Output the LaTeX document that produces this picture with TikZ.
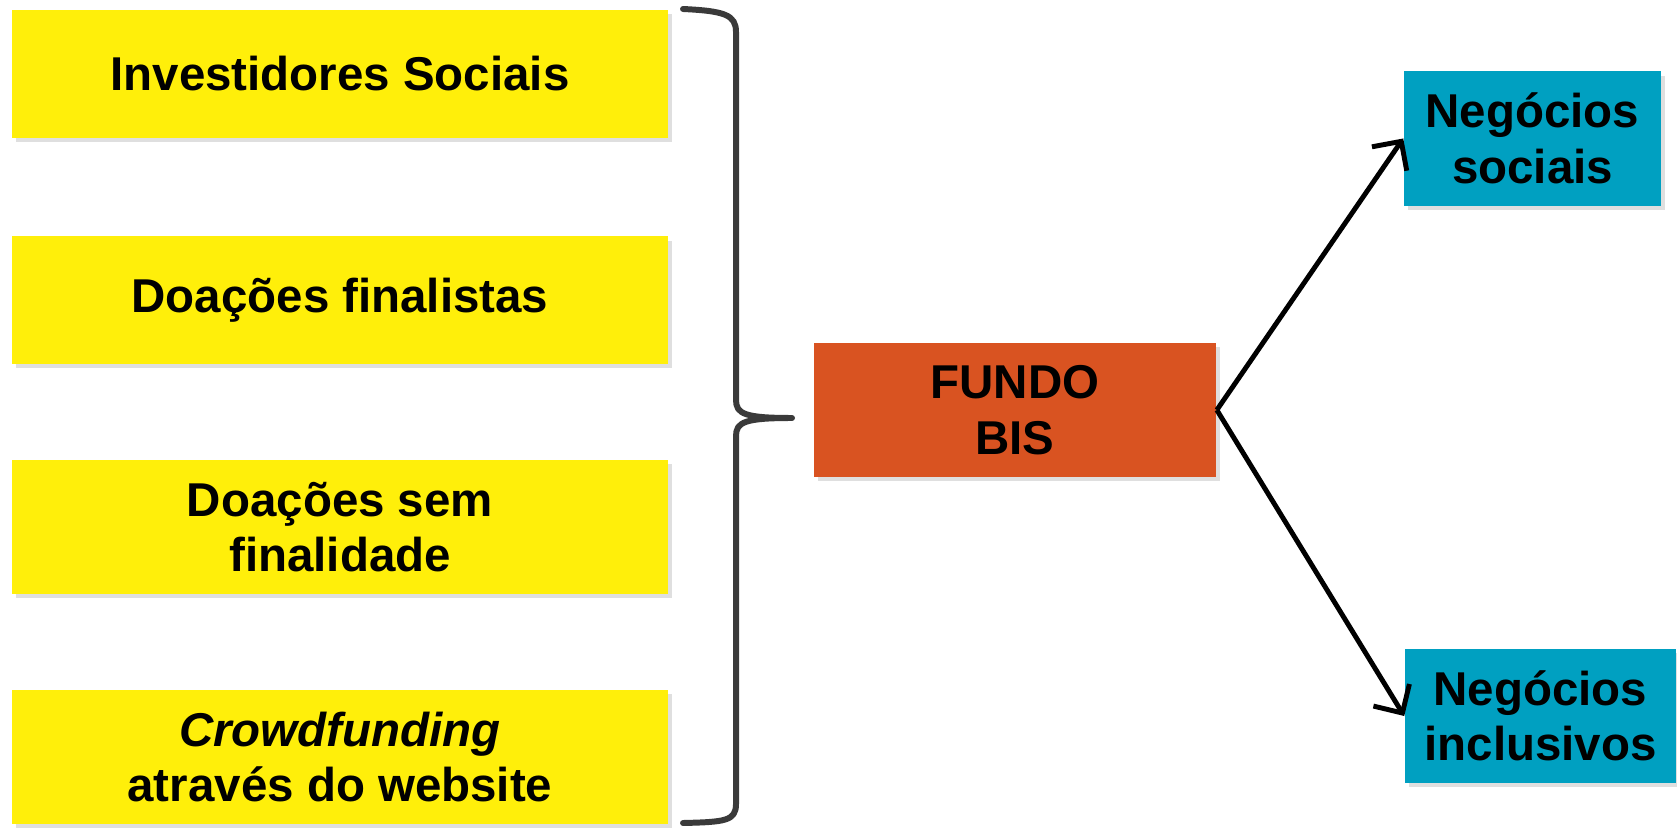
\documentclass[tikz,border=0pt]{standalone}
\usepackage{fontspec}
\setmainfont{Liberation Sans}
\usetikzlibrary{arrows.meta,shadows}

\definecolor{srcyellow}{HTML}{FFEF0A}
\definecolor{fundorange}{HTML}{D95321}
\definecolor{destteal}{HTML}{00A0C1}
\definecolor{bracegray}{HTML}{3A3A3A}

\tikzset{
  box/.style={inner sep=0pt, align=center,
    font=\fontsize{13.5}{15.8}\selectfont\bfseries,
    drop shadow={shadow xshift=1.2pt, shadow yshift=-1.2pt, opacity=.25, fill=black!50}},
  srcbox/.style={box, fill=srcyellow, minimum width=6.56cm, minimum height=1.3cm},
  fundbox/.style={box, fill=fundorange, minimum width=4.02cm, minimum height=1.34cm},
  destbox/.style={box, fill=destteal, minimum height=1.34cm},
  flow/.style={line width=1.4pt, -{Straight Barb[length=6pt, width=12pt, line width=1.4pt]}},
}

\begin{document}
\begin{tikzpicture}[x=0.01cm, y=-0.01cm]
  \useasboundingbox (0,0) rectangle (1677,828);
  % sources
  \node[srcbox, minimum height=1.28cm] (inv) at (340,74) {Investidores Sociais};
  \node[srcbox, minimum height=1.27cm] (fin) at (340,300) {Doações finalistas};
  \node[srcbox, minimum height=1.34cm] (sem) at (340,527) {Doações sem\\finalidade};
  \node[srcbox, minimum height=1.34cm] (crowd) at (340,757) {\textit{Crowdfunding}\\através do website};
  % brace
  \draw[bracegray, line width=1.7pt, line cap=round, line join=round]
    (683,9) .. controls (725,11) and (736,15) .. (736,32)
    -- (736,400) .. controls (736,414) and (745,418) .. (792,418)
    .. controls (745,418) and (736,422) .. (736,436)
    -- (736,804) .. controls (736,821) and (725,822) .. (683,823);
  % fund
  \node[fundbox] (fundo) at (1015,410) {FUNDO\\BIS};
  % destinations
  \node[destbox, minimum width=2.57cm] (soc) at (1532.5,138.5) {Negócios\\sociais};
  \node[destbox, minimum width=2.71cm] (inc) at (1540.5,716) {Negócios\\inclusivos};
  \draw[flow] (fundo.east) -- (soc.west);
  \draw[flow] (fundo.east) -- (inc.west);
\end{tikzpicture}
\end{document}
